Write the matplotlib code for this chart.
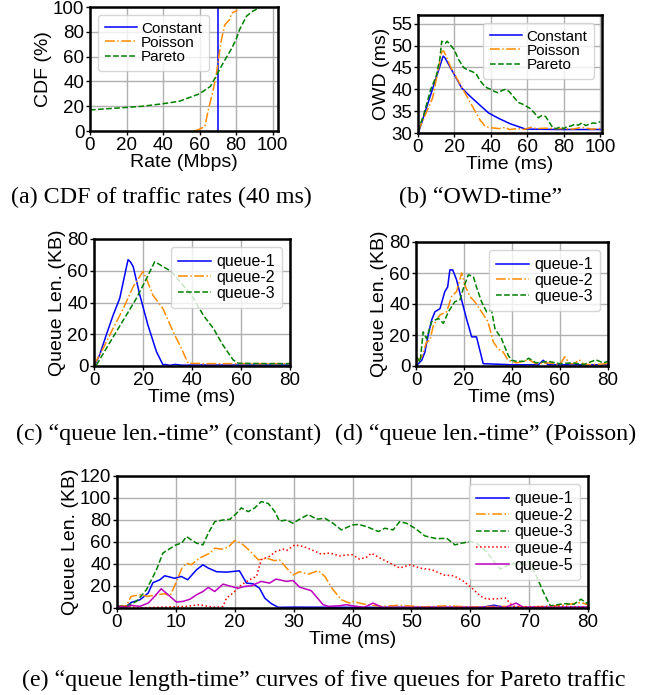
import matplotlib
matplotlib.use("Agg")
import matplotlib.pyplot as plt

plt.rcParams['font.family'] = ['Liberation Sans', 'DejaVu Sans']

# ---- (a) CDF of traffic rates ----
cdf_const_x = [70, 70]
cdf_const_y = [0, 100]
cdf_pois_x = [57, 58.4, 62.9, 64.8, 67.5, 69.3, 70.3, 72, 73.9, 76.6, 77.6, 80.3, 80.6]
cdf_pois_y = [0, 0.5, 3.5, 17, 33, 46.6, 57, 73.6, 85.7, 90, 95, 97, 98]
cdf_par_x = [0, 20, 29, 40, 49, 60, 66, 69, 73, 77, 80, 82, 85.8, 89.4, 93]
cdf_par_y = [17, 19, 20, 22, 24, 30, 36, 44, 55, 65, 73.6, 82, 92.7, 96.8, 99.5]

# ---- (b) OWD-time ----
owd_const_t = [0.5, 13.8, 14.8, 24, 28.6, 38.7, 44, 50.7, 59, 77, 100]
owd_const = [30.4, 47.6, 47.2, 40.3, 38.4, 34.6, 33.4, 32.1, 30.9, 30.8, 30.8]
owd_pois_t = [0, 8, 13, 14, 15, 18, 22, 26, 30, 34, 37, 40, 45, 48, 50, 55, 58, 62, 65,
              70, 75, 80, 85, 90, 95, 100]
owd_pois = [30.3, 38, 48.5, 48.8, 48, 45, 42, 39, 36, 33, 31.5, 31.2, 31, 31.3, 30.8, 31,
            30.8, 31.3, 31, 31.1, 31, 31, 30.9, 31.3, 30.9, 31]
owd_par_t = [0, 3, 7, 10, 12, 13, 15, 16, 18, 20, 22, 25, 27, 30, 32, 34, 36, 38, 40, 42,
             44, 46, 48, 50, 52, 55, 58, 60, 62, 64, 66, 68, 70, 72, 74, 76, 78, 80, 82,
             84, 86, 88, 90, 92, 94, 96, 98, 100]
owd_par = [30.5, 34, 40, 43, 47, 51, 50.5, 51, 50, 49, 47, 45, 44.5, 44, 43.5, 42, 41,
           40.3, 40, 39.5, 39.2, 39.7, 40, 39.5, 38.5, 37, 36.5, 36, 35.5, 34.5, 33.5, 34,
           33.8, 32.5, 31.2, 31, 31.4, 31, 31.5, 31.6, 32, 31.8, 32.3, 31.7, 32, 32.3,
           32.2, 32.6]

# ---- (c) queue length, constant ----
c_q1_t = [0.3, 2.3, 5, 7.8, 10.5, 12.5, 13.9, 14.9, 16, 18.7, 22, 25.5, 28.2, 29, 31, 33,
          36, 40, 50, 60, 70, 80]
c_q1 = [0.6, 7, 19.5, 32, 42.6, 57, 67, 65.5, 62.6, 44.7, 25.8, 9, 0.6, 1, 0.4, 1, 0.5,
        0.6, 0.6, 0.6, 0.6, 0.6]
c_q2_t = [0, 3.7, 7.8, 11.9, 16, 20, 21.4, 24, 28.2, 32.3, 35.7, 38.4, 45, 60, 80]
c_q2 = [0.6, 11, 23.7, 36, 50, 59.5, 55, 44.7, 36, 21.6, 11, 1.7, 1.5, 1.5, 1.5]
c_q3_t = [1, 5, 9.1, 13.2, 17.3, 21.4, 24.8, 28.2, 31.6, 35.7, 39.8, 44.6, 48.7, 52.7,
          56.8, 58.9, 70, 80]
c_q3 = [0.6, 11, 21.6, 32, 42.6, 55, 65.7, 62.6, 59.5, 52, 44.7, 32, 23.7, 13, 3.8, 1.7,
        1.5, 1.5]

# ---- (d) queue length, Poisson ----
d_q1_t = [0.3, 2.4, 3.7, 5.1, 6.5, 7.9, 10, 12, 13.2, 14.1, 15.3, 16.9, 19, 21, 23.2,
          25.2, 28, 40, 51, 53, 55, 80]
d_q1 = [0.4, 3.7, 9, 20, 29.6, 35, 37, 48, 51, 62, 62, 55.6, 42.6, 30.7, 18.8, 18.8, 1.5,
        0.8, 0.8, 3.7, 0.8, 0.8]
d_q2_t = [0.3, 2.4, 4.4, 5.8, 7.2, 10, 12.8, 14.8, 16.9, 19, 20.4, 22.5, 24.5, 27.3, 30,
          32.2, 34.2, 36.3, 38.4, 42, 47, 50, 55, 60, 62, 64, 66, 68, 70, 75, 80]
d_q2 = [2.6, 5.8, 15.6, 16.6, 26, 33, 35, 44.8, 48, 60, 52, 44.8, 41.5, 35, 28.5, 15.6,
        11, 9, 3.7, 2, 4, 1.5, 2, 1, 6, 1.5, 1.5, 4, 1, 1, 1.5]
d_q3_t = [0.3, 1.7, 3, 4.4, 6.5, 9.3, 11.4, 13.5, 16.2, 18.3, 19.7, 21.8, 23.9, 25.2, 27.3,
          29.4, 31.5, 32.9, 35.6, 38.4, 39.8, 42, 45, 47, 50, 55, 60, 65, 70, 75, 78, 80]
d_q3 = [5.8, 2.6, 22, 17.7, 28.5, 30.7, 27.5, 35, 41.5, 42.6, 50, 58.8, 57.7, 51, 41.5,
        35, 36, 24, 17.7, 7, 3.7, 3, 3, 5, 2, 3, 1.5, 2, 1, 4, 2, 3]

# ---- (e) queue length, Pareto, five queues ----
e_q1_t = [0, 1.6, 2.4, 3.9, 5.3, 6.1, 7.3, 8.1, 9.8, 10.9, 12, 13.5, 14.6, 15.5, 16.9, 18.6,
          19.7, 20.8, 22, 23.1, 24.2, 25.1, 26.2, 27.4, 30, 40, 50, 62, 64, 66, 80]
e_q1 = [1.5, 1.5, 5, 7.5, 13.6, 23, 25.7, 29.3, 27, 28.7, 25.7, 34.7, 39.3, 36.3, 33, 32.6,
        33.2, 33.8, 22.6, 22, 18, 9, 4, 0.6, 0.8, 0.6, 0.6, 0.6, 2.5, 0.6, 0.6]
e_q2_t = [0, 1.6, 2.4, 3.9, 5.3, 6.7, 8.1, 9, 10, 11, 11.8, 12.6, 14, 15.8, 16.6, 17.7,
          18.9, 20, 21.1, 22.5, 24, 25.4, 26.8, 27.6, 28.8, 29.9, 31, 32.5, 34.2, 35.3,
          36.7, 38.1, 39.5, 40, 41.2, 42.4, 45, 48, 52, 56, 60, 65, 70, 75, 78.8, 80]
e_q2 = [1.5, 2, 10.6, 12, 10.6, 12, 13, 11, 22.6, 36, 40.8, 39.3, 45.3, 50, 54.4, 53.5,
        55.3, 61.3, 59, 52.3, 43.8, 45.3, 43, 43.8, 36.3, 30, 33, 30.8, 34, 28.7, 16.6,
        7.5, 4.5, 6, 4.5, 3, 1.5, 2.5, 1, 2, 1, 1.5, 1, 2, 5, 3]
e_q3_t = [0.2, 1.6, 3.3, 5, 6.7, 7.8, 9, 10, 11, 11.8, 12.6, 13.5, 14.6, 15.5, 16.6, 18,
          19.2, 20.3, 21.1, 22.3, 23.4, 24.5, 25.7, 26.8, 27.6, 28.8, 29.9, 31, 32.5, 33.9,
          35.3, 36.7, 38.1, 40, 41, 42.4, 44.4, 45.5, 46.9, 48, 49.2, 50.6, 52.3, 54.3, 56,
          57.4, 58.6, 60, 61.1, 62.8, 64, 65.1, 66.2, 67.4, 68.8, 69.9, 71, 72.5, 73.6,
          74.8, 75.9, 77.6, 78.8, 79.9]
e_q3 = [1.5, 1.5, 6, 16.6, 34.7, 50, 54, 57.4, 59, 65, 62, 59, 57.4, 68, 78.5, 80, 80.7,
        86, 91, 87.6, 91, 96.7, 95, 87.6, 79, 80, 77, 80.7, 85, 80.7, 81.6, 77, 71, 75.5,
        76, 74, 69.5, 72.5, 71, 78.5, 77, 72.5, 65.5, 63, 63.4, 57.4, 59, 60.4, 59, 51,
        42.3, 35.4, 38.4, 40.8, 39.3, 42.3, 31.7, 13.6, 2, 3, 4, 3.3, 8, 4]
e_q4_t = [0, 2.4, 3.3, 11.8, 14, 15.5, 16.9, 18, 18.6, 19.7, 21.1, 22.5, 23.7, 24.5, 25.9,
          27, 28.2, 28.8, 30.2, 31.6, 33, 34.7, 36.1, 37.8, 39.5, 40, 41.2, 42.4, 43.2,
          44.7, 46.4, 48, 49.8, 51.5, 53.5, 55.5, 57.2, 58.9, 60.3, 61.7, 62.8, 64.5, 66,
          66.8, 67.4, 70, 75, 80]
e_q4 = [1.5, 1.5, 0, 1.5, 3, 1.5, 0.6, 1.5, 9, 13.6, 21, 25.7, 28.7, 43.8, 47, 51.4, 53.5,
        52.3, 57.4, 56, 53, 49, 50, 47.4, 48.4, 48.4, 44.4, 46.2, 49.8, 45.3, 40.8, 36.3,
        39.3, 36.3, 34.7, 30, 29.3, 24.2, 18, 11, 8, 8.4, 9, 4, 1.5, 1, 1.5, 1]
e_q5_t = [0, 1.6, 2.4, 3.9, 5.3, 6.4, 7.5, 9, 10.1, 11.2, 12.4, 13.5, 14.6, 15.5, 16.6, 18,
          19.4, 20.6, 21.7, 22.8, 24.5, 25.9, 27, 28.8, 29.9, 31, 33, 35, 35.9, 37.8, 39,
          40, 42, 43.5, 45, 50, 60, 66, 67.8, 69, 80]
e_q5 = [1.5, 0.6, 2.4, 1.5, 4.5, 10.6, 17.5, 10.6, 5.4, 6, 8, 12, 15, 18.7, 15, 21.7, 19.6,
        18, 19.6, 20.2, 24.2, 22.6, 26.3, 24.2, 25, 19, 15.7, 3, 1.5, 2, 3, 2, 0.6, 4.5,
        0.6, 0.6, 0.6, 0.6, 4.5, 0.6, 0.6]

W, H = 649, 695
fig = plt.figure(figsize=(W / 100, H / 100), dpi=100)


def add_ax(l, r, t, b):
    return fig.add_axes([l / W, 1 - b / H, (r - l) / W, (b - t) / H])


def style(ax, xlabel, ylabel, xlim, ylim, xticks, yticks):
    ax.set_xlim(*xlim)
    ax.set_ylim(*ylim)
    ax.set_xticks(xticks)
    ax.set_yticks(yticks)
    ax.grid(True, color='#b0b0b0', lw=1)
    ax.set_axisbelow(True)
    for s in ax.spines.values():
        s.set_linewidth(1.8)
    ax.tick_params(labelsize=13.5, length=3, width=1, pad=1)
    ax.set_xlabel(xlabel, fontsize=14, labelpad=0)
    ax.set_ylabel(ylabel, fontsize=14, labelpad=1)


def legend(ax, loc, fs, sp):
    ax.legend(loc=loc, fontsize=fs, labelspacing=sp, handlelength=2.1,
              borderpad=0.45, handletextpad=0.3, borderaxespad=0.5)


lw = 1.1
# (a)
ax = add_ax(90, 278, 7, 131)
ax.plot(cdf_const_x, cdf_const_y, color='blue', lw=lw, label='Constant')
ax.plot(cdf_pois_x, cdf_pois_y, color='darkorange', ls='-.', lw=lw, label='Poisson')
ax.plot(cdf_par_x, cdf_par_y, color='green', ls='--', lw=lw, label='Pareto')
style(ax, 'Rate (Mbps)', 'CDF (%)', (0, 103), (0, 100), range(0, 101, 20), range(0, 101, 20))
legend(ax, 'upper left', 11, 0.02)

# (b)
ax = add_ax(418, 602, 15, 133)
ax.plot(owd_const_t, owd_const, color='blue', lw=lw, label='Constant')
ax.plot(owd_pois_t, owd_pois, color='darkorange', ls='-.', lw=lw, label='Poisson')
ax.plot(owd_par_t, owd_par, color='green', ls='--', lw=lw, label='Pareto')
style(ax, 'Time (ms)', 'OWD (ms)', (0, 101), (30, 57), range(0, 101, 20), range(30, 56, 5))
legend(ax, 'upper right', 11, 0.02)

# (c)
ax = add_ax(94, 290, 239, 366)
ax.plot(c_q1_t, c_q1, color='blue', lw=lw, label='queue-1')
ax.plot(c_q2_t, c_q2, color='darkorange', ls='-.', lw=lw, label='queue-2')
ax.plot(c_q3_t, c_q3, color='green', ls='--', lw=lw, label='queue-3')
style(ax, 'Time (ms)', 'Queue Len. (KB)', (0, 80), (0, 80), range(0, 81, 20), range(0, 81, 20))
legend(ax, 'upper right', 11.5, 0.05)

# (d)
ax = add_ax(416, 608, 242, 366)
ax.plot(d_q1_t, d_q1, color='blue', lw=lw, label='queue-1')
ax.plot(d_q2_t, d_q2, color='darkorange', ls='-.', lw=lw, label='queue-2')
ax.plot(d_q3_t, d_q3, color='green', ls='--', lw=lw, label='queue-3')
style(ax, 'Time (ms)', 'Queue Len. (KB)', (0, 80), (0, 80), range(0, 81, 20), range(0, 81, 20))
legend(ax, 'upper right', 11.5, 0.05)

# (e)
ax = add_ax(117, 588, 476, 608)
ax.plot(e_q1_t, e_q1, color='blue', lw=lw, label='queue-1')
ax.plot(e_q2_t, e_q2, color='darkorange', ls='-.', lw=lw, label='queue-2')
ax.plot(e_q3_t, e_q3, color='green', ls='--', lw=lw, label='queue-3')
ax.plot(e_q4_t, e_q4, color='red', ls=':', lw=lw, label='queue-4')
ax.plot(e_q5_t, e_q5, color='m', lw=lw, label='queue-5')
style(ax, 'Time (ms)', 'Queue Len. (KB)', (0, 80), (0, 120), range(0, 81, 10), range(0, 121, 20))
legend(ax, 'upper right', 11.5, 0.1)

cap = dict(fontsize=17.3, family='Liberation Serif', ha='center', va='center')
fig.text(161 / W, 1 - 197 / H, '(a) CDF of traffic rates (40 ms)', **cap)
fig.text(481 / W, 1 - 197 / H, '(b) \u201cOWD-time\u201d', **cap)
fig.text(169 / W, 1 - 434 / H, '(c) \u201cqueue len.-time\u201d (constant)', **cap)
fig.text(486 / W, 1 - 434 / H, '(d) \u201cqueue len.-time\u201d (Poisson)', **cap)
fig.text(324 / W, 1 - 680 / H,
         '(e) \u201cqueue length-time\u201d curves of five queues for Pareto traffic', **cap)

fig.savefig('out.png', dpi=100)
